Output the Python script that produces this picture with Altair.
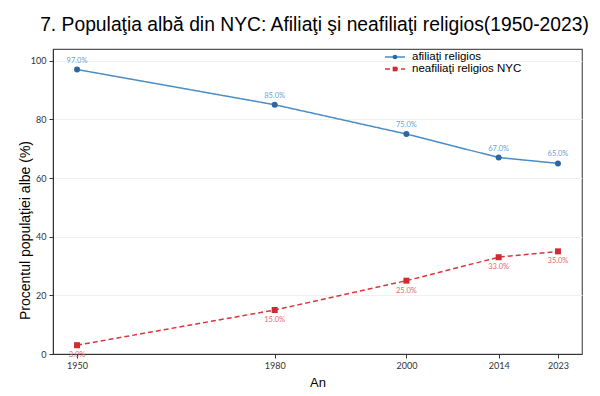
import altair as alt
import pandas as pd

years = [1950, 1980, 2000, 2014, 2023]
affiliated = [97.0, 85.0, 75.0, 67.0, 65.0]
unaffiliated = [3.0, 15.0, 25.0, 33.0, 35.0]
series_names = ["afiliaţi religios", "neafiliaţi religios NYC"]
y_ticks = [0, 20, 40, 60, 80, 100]

rows = []
for yr, v in zip(years, affiliated):
    rows.append({"year": yr, "value": v, "series": series_names[0], "label": f"{v:.1f}%"})
for yr, v in zip(years, unaffiliated):
    rows.append({"year": yr, "value": v, "series": series_names[1], "label": f"{v:.1f}%"})
df = pd.DataFrame(rows)

line_colors = ["#4a8cc4", "#d9363e"]
marker_colors = ["#2a67a3", "#d12a2f"]
label_colors = ["#6aa3d6", "#e06a6a"]
dashes = [[1, 0], [5, 3]]
shapes = ["circle", "square"]

x_enc = alt.X("year:Q",
              scale=alt.Scale(domain=[1946.35, 2026.65], nice=False, zero=False),
              axis=alt.Axis(values=years, format="d", title="An", grid=False))
y_enc = alt.Y("value:Q",
              scale=alt.Scale(domain=[0, 104], nice=False),
              axis=alt.Axis(values=y_ticks, title="Procentul populaţiei albe (%)", grid=True,
                            titleX=-28, titleY=181, titleBaseline="middle", titleAlign="center",
                            titleAngle=270))

base = alt.Chart(df).encode(x=x_enc, y=y_enc)

layers = []
for i, name in enumerate(series_names):
    sub = base.transform_filter(alt.datum.series == name)
    layers.append(sub.mark_line(strokeWidth=1.5, color=line_colors[i], strokeDash=dashes[i]))
for i, name in enumerate(series_names):
    sub = base.transform_filter(alt.datum.series == name)
    layers.append(sub.mark_point(filled=True, size=36, opacity=1, shape=shapes[i], color=marker_colors[i]))
for i, name in enumerate(series_names):
    sub = base.transform_filter(alt.datum.series == name)
    layers.append(sub.mark_text(dy=(-9 if i == 0 else 10), fontSize=7.5, font="Lato",
                                color=label_colors[i]).encode(text="label:N"))

# legend (top right, inside plot)
legend_rows_y = [8, 20]
for i, name in enumerate(series_names):
    leg = alt.Chart(pd.DataFrame({"series": [name]}))
    yy = legend_rows_y[i]
    layers.append(leg.mark_rule(strokeWidth=1.5, color=line_colors[i], strokeDash=dashes[i]).encode(
        x=alt.value(332), x2=alt.value(352), y=alt.value(yy)))
    layers.append(leg.mark_point(filled=True, size=22, opacity=1, shape=shapes[i],
                                 color=marker_colors[i]).encode(x=alt.value(342), y=alt.value(yy)))
    layers.append(leg.mark_text(align="left", baseline="middle", font="Liberation Sans", fontSize=11.5,
                                color="#000").encode(x=alt.value(359), y=alt.value(yy), text="series:N"))

chart = alt.layer(*layers).properties(
    width=529, height=305,
    padding={"left": 45, "top": 41, "right": 10, "bottom": 34},
    autosize=alt.AutoSizeParams(type="none"),
    title=alt.TitleParams("7. Populaţia albă din NYC: Afiliaţi şi neafiliaţi religios(1950-2023)",
                          font="Liberation Sans", fontSize=19.3, fontWeight="normal",
                          color="#000", anchor="middle", offset=14, dx=-3),
).configure_view(stroke="#555", strokeWidth=1.2).configure_axis(
    labelFont="Lato", labelFontSize=9, labelColor="#333",
    titleFont="Liberation Sans", titleFontWeight="normal", titleColor="#000",
    domainColor="#333", tickColor="#333", tickSize=4, gridColor="#f0f0f0",
).configure_axisY(titleFontSize=14, labelPadding=3).configure_axisX(
    titleFontSize=13, titlePadding=6, labelPadding=3)

chart.save("out.html", embed_options={"renderer": "svg", "actions": False})
